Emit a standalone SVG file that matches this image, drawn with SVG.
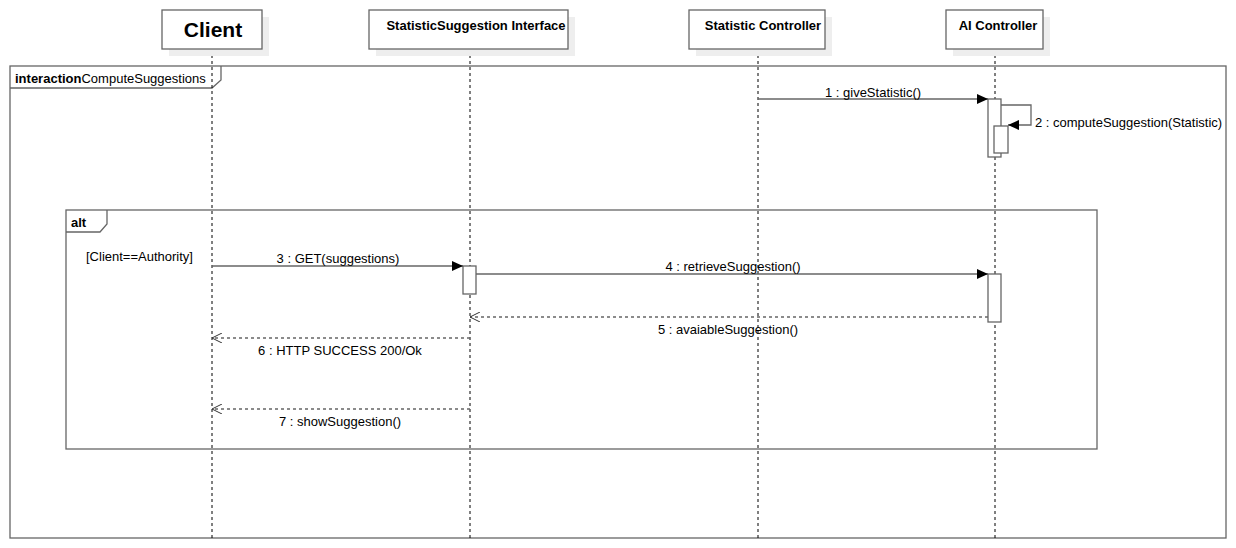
<svg xmlns="http://www.w3.org/2000/svg" width="1236" height="548" viewBox="0 0 1236 548">
<style>
text{font-family:"Liberation Sans",Arial,sans-serif;font-size:13px;fill:#000}
.b{font-weight:bold}
.box{fill:#fff;stroke:#666;stroke-width:1.3}
.sh{fill:#eee}
.frame{fill:none;stroke:#666;stroke-width:1.3}
.life{stroke:#000;stroke-width:1;stroke-dasharray:3,3;fill:none}
.msg{stroke:#666;stroke-width:1.3;fill:none}
.ret{stroke:#666;stroke-width:1.3;fill:none;stroke-dasharray:3,3}
.act{fill:#fff;stroke:#666;stroke-width:1.3}
</style>
<defs>
<marker id="fa" markerWidth="12" markerHeight="10" refX="11" refY="5" orient="auto" markerUnits="userSpaceOnUse"><path d="M0,0 L11,5 L0,10 Z" fill="#000"/></marker>
<marker id="oa" markerWidth="12" markerHeight="10" refX="11" refY="5" orient="auto" markerUnits="userSpaceOnUse"><path d="M1,0 L11,5 L1,10" fill="none" stroke="#333" stroke-width="1"/></marker>
</defs>
<rect width="1236" height="548" fill="#fff"/>
<g id="frame">
<rect class="frame" x="10" y="66" width="1216" height="472"/>
<path class="frame" d="M10,88 L212,88 L221,80 L221,66"/>
<text x="15" y="83"><tspan class="b">interaction</tspan>ComputeSuggestions</text>
</g>
<g id="lifelines">
<line class="life" x1="212" y1="49" x2="212" y2="538"/>
<line class="life" x1="470" y1="49" x2="470" y2="538"/>
<line class="life" x1="758" y1="49" x2="758" y2="538"/>
<line class="life" x1="995" y1="49" x2="995" y2="538"/>
</g>
<g id="client">
<rect class="sh" x="169" y="17" width="100" height="39"/>
<rect class="box" x="162" y="10" width="100" height="39"/>
<text class="b" x="213" y="37" text-anchor="middle" style="font-size:21px">Client</text>
</g>
<g id="interface">
<rect class="sh" x="376" y="17" width="199" height="39"/>
<rect class="box" x="369" y="10" width="199" height="39"/>
<text class="b" x="476" y="30" text-anchor="middle">StatisticSuggestion Interface</text>
</g>
<g id="statcontroller">
<rect class="sh" x="696" y="17" width="136" height="39"/>
<rect class="box" x="689" y="10" width="136" height="39"/>
<text class="b" x="763" y="30" text-anchor="middle">Statistic Controller</text>
</g>
<g id="aicontroller">
<rect class="sh" x="953" y="17" width="97" height="39"/>
<rect class="box" x="946" y="10" width="97" height="39"/>
<text class="b" x="998" y="30" text-anchor="middle">AI Controller</text>
</g>
<g id="alt">
<rect class="frame" x="66" y="210" width="1031" height="239"/>
<path class="frame" d="M66,232 L100,232 L107,224 L107,210"/>
<text class="b" x="71" y="227">alt</text>
<text x="86" y="261">[Client==Authority]</text>
</g>
<g id="activations">
<rect class="act" x="988" y="99" width="13" height="58"/>
<rect class="act" x="994" y="126" width="14" height="27"/>
<rect class="act" x="463" y="266" width="13" height="28"/>
<rect class="act" x="988" y="274" width="13" height="48"/>
</g>
<g id="connectors">
<line class="msg" x1="758" y1="99" x2="988" y2="99" marker-end="url(#fa)"/>
<text x="873" y="97" text-anchor="middle">1 : giveStatistic()</text>
<path class="msg" d="M1001,105 L1031,105 L1031,125 L1008,125" marker-end="url(#fa)"/>
<text x="1035" y="127">2 : computeSuggestion(Statistic)</text>
<line class="msg" x1="212" y1="266" x2="463" y2="266" marker-end="url(#fa)"/>
<text x="338" y="263" text-anchor="middle">3 : GET(suggestions)</text>
<line class="msg" x1="476" y1="274" x2="988" y2="274" marker-end="url(#fa)"/>
<text x="733" y="271" text-anchor="middle">4 : retrieveSuggestion()</text>
<line class="ret" x1="988" y1="317" x2="470" y2="317" marker-end="url(#oa)"/>
<text x="728" y="334" text-anchor="middle">5 : avaiableSuggestion()</text>
<line class="ret" x1="470" y1="338" x2="212" y2="338" marker-end="url(#oa)"/>
<text x="340" y="355" text-anchor="middle">6 : HTTP SUCCESS 200/Ok</text>
<line class="ret" x1="470" y1="409" x2="212" y2="409" marker-end="url(#oa)"/>
<text x="340" y="426" text-anchor="middle">7 : showSuggestion()</text>
</g>
</svg>
